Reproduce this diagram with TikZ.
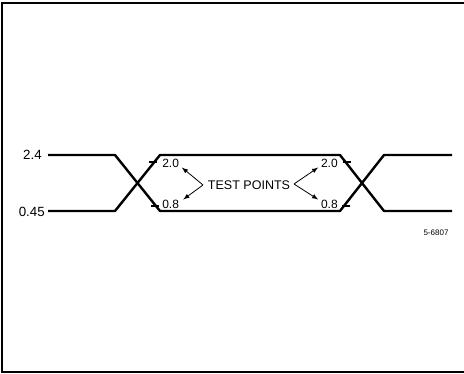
\documentclass[tikz,border=0pt]{standalone}
\usepackage{fontspec}
\setmainfont{Liberation Sans}

\begin{document}
\begin{tikzpicture}[x=0.75pt,y=-0.75pt]
	\tikzstyle{every node}=[inner sep=0pt,font=\fontsize{9}{11}\selectfont]
	\tikzstyle{wave}=[line width=1.8pt,line join=round]
	\tikzstyle{tickmark}=[line width=0.8pt]
	\tikzstyle{pointer}=[-latex,line width=0.6pt]
	\useasboundingbox (0,0) rectangle (464,374);
	% frame
	\draw[line width=1pt] (464,3) -- (2,3) -- (2,372) -- (464,372);
	% levels
	\node[anchor=east,font=\fontsize{10}{12}\selectfont] (high) at (42,155) {2.4};
	\node[anchor=east,font=\fontsize{10}{12}\selectfont] (low) at (45,212) {0.45};
	\draw[wave] (48,155) -- (115,155) -- (160,211) -- (340,211) -- (384,155) -- (452,155);
	\draw[wave] (48,211) -- (115,211) -- (160,155) -- (340,155) -- (384,211) -- (452,211);
	% test levels
	\draw[tickmark] (149,162) -- (157,162);
	\draw[tickmark] (151,206) -- (159,206);
	\draw[tickmark] (343,162) -- (351,162);
	\draw[tickmark] (342,206) -- (350,206);
	\node[anchor=west] (ltop) at (162,163) {2.0};
	\node[anchor=west] (lbot) at (162,204) {0.8};
	\node[anchor=east] (rtop) at (338,163) {2.0};
	\node[anchor=east] (rbot) at (338,204) {0.8};
	\node[font=\fontsize{9.4}{11}\selectfont] (tp) at (249,185) {TEST POINTS};
	\coordinate (lv) at (203,185);
	\coordinate (rv) at (294,184);
	\draw[pointer] (lv) -- ([xshift=2pt]ltop.south east);
	\draw[pointer] (lv) -- ([xshift=3pt]lbot.north east);
	\draw[pointer] (rv) -- ([xshift=-2pt]rtop.south west);
	\draw[pointer] (rv) -- ([xshift=-2pt]rbot.north west);
	\node[font=\fontsize{6}{7}\selectfont] (fig) at (436,233) {5-6807};
\end{tikzpicture}
\end{document}
